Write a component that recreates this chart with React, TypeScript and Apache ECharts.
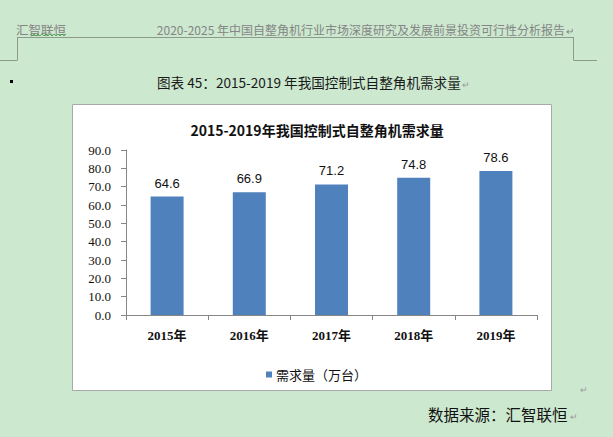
import React, { useEffect, useRef } from "react";
import * as echarts from "echarts";

const categories = ["2015年", "2016年", "2017年", "2018年", "2019年"];
const demand = [64.6, 66.9, 71.2, 74.8, 78.6];
const seriesName = "需求量（万台）";
const chartTitle = "2015-2019年我国控制式自整角机需求量";
const caption = "图表 45：2015-2019 年我国控制式自整角机需求量";
const headerLeft = "汇智联恒";
const headerRight = "2020-2025 年中国自整角机行业市场深度研究及发展前景投资可行性分析报告";
const sourceText = "数据来源：汇智联恒";

const CJK = '"Noto Sans CJK SC", "Noto Sans", sans-serif';
const SERIF = '"Liberation Serif", "Noto Sans CJK SC", serif';

export default function App() {
  const ref = useRef<HTMLDivElement>(null);
  useEffect(() => {
    if (!ref.current) return;
    const chart = echarts.init(ref.current, null, { renderer: "svg" });
    const zig: number[][] = [];
    for (let i = 0; i <= 18; i++) zig.push([30 + i * 2, i % 2 === 0 ? 34 : 36]);
    const lineStyle = { stroke: "#8c9a8c", lineWidth: 1 };
    chart.setOption({
      animation: false,
      backgroundColor: "#cce8cf",
      graphic: [
        { type: "rect", shape: { x: 72.5, y: 104.5, width: 479, height: 286 }, style: { fill: "#ffffff", stroke: "#a9a9a9", lineWidth: 1 }, z: -10 },
        { type: "line", shape: { x1: 17, y1: 37.5, x2: 573, y2: 37.5 }, style: lineStyle },
        { type: "line", shape: { x1: 17.5, y1: 37, x2: 17.5, y2: 60 }, style: lineStyle },
        { type: "line", shape: { x1: 0, y1: 60.5, x2: 17.5, y2: 60.5 }, style: lineStyle },
        { type: "line", shape: { x1: 573.5, y1: 37, x2: 573.5, y2: 60 }, style: lineStyle },
        { type: "line", shape: { x1: 573.5, y1: 60.5, x2: 597, y2: 60.5 }, style: lineStyle },
        { type: "text", x: 16, y: 29, style: { text: headerLeft, font: `12.5px ${CJK}`, fill: "#858585", verticalAlign: "middle" } },
        { type: "polyline", shape: { points: zig }, style: { stroke: "#3aa03a", lineWidth: 0.8, fill: null } },
        { type: "text", x: 565, y: 29, style: { text: headerRight, font: `12px ${CJK}`, fill: "#858585", align: "right", verticalAlign: "middle" } },
        { type: "text", x: 566, y: 30, style: { text: "↵", font: `10px ${CJK}`, fill: "#858585", verticalAlign: "middle" } },
        { type: "rect", shape: { x: 10, y: 80, width: 3, height: 3 }, style: { fill: "#000000" } },
        { type: "text", x: 157, y: 82, style: { text: caption, font: `13.6px ${CJK}`, fill: "#1a1a1a", verticalAlign: "middle" } },
        { type: "text", x: 462, y: 84, style: { text: "↵", font: `9px ${CJK}`, fill: "#999999", verticalAlign: "middle" } },
        { type: "text", x: 580, y: 389, style: { text: "↵", font: `9px ${CJK}`, fill: "#999999", verticalAlign: "middle" } },
        { type: "text", x: 428, y: 414, style: { text: sourceText, font: `15.5px ${CJK}`, fill: "#111111", verticalAlign: "middle" } },
        { type: "text", x: 570, y: 416, style: { text: "↵", font: `9px ${CJK}`, fill: "#999999", verticalAlign: "middle" } },
      ],
      title: {
        text: chartTitle,
        left: 312,
        top: 118,
        textAlign: "center",
        textStyle: { fontFamily: CJK, fontSize: 14, fontWeight: "bold", color: "#111111" },
      },
      legend: {
        data: [{ name: seriesName, icon: "rect" }],
        left: 261,
        top: 363,
        itemWidth: 6,
        itemHeight: 6,
        itemGap: 4,
        textStyle: { fontFamily: CJK, fontSize: 13, color: "#111111", padding: [0, 0, 0, -1] },
      },
      grid: { left: 126, right: 76, top: 150, bottom: 122, containLabel: false },
      xAxis: {
        type: "category",
        data: categories,
        axisLine: { lineStyle: { color: "#868686", width: 1 } },
        axisTick: { show: true, length: 5, lineStyle: { color: "#868686" } },
        axisLabel: { fontFamily: SERIF, fontSize: 13, fontWeight: "bold", color: "#111111", margin: 14 },
      },
      yAxis: {
        type: "value",
        min: 0,
        max: 90,
        interval: 10,
        axisLine: { show: true, lineStyle: { color: "#868686", width: 1 } },
        axisTick: { show: true, length: 5, lineStyle: { color: "#868686" } },
        splitLine: { show: false },
        axisLabel: {
          fontFamily: SERIF,
          fontSize: 13,
          color: "#111111",
          margin: 15,
          formatter: (v: number) => v.toFixed(1),
        },
      },
      series: [
        {
          name: seriesName,
          type: "bar",
          data: demand,
          barWidth: 33,
          itemStyle: { color: "#4f81bd" },
          label: {
            show: true,
            position: "top",
            distance: 7,
            fontFamily: '"Liberation Sans", sans-serif',
            fontSize: 13,
            color: "#111111",
            formatter: (p: any) => Number(p.value).toFixed(1),
          },
        },
      ],
    });
    return () => chart.dispose();
  }, []);
  return <div ref={ref} style={{ position: "absolute", left: 0, top: 0, width: 613, height: 437 }} />;
}
